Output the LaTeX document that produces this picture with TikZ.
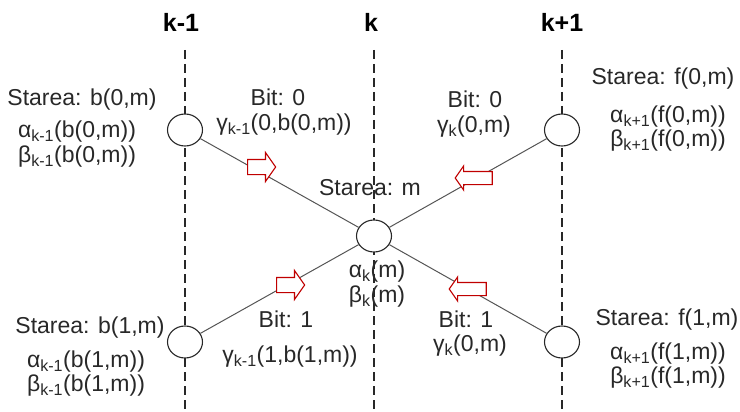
\documentclass[tikz,border=0pt]{standalone}
\usepackage{fontspec}
\setmainfont{Liberation Sans}
\usepackage{tikz}
\usetikzlibrary{shapes.arrows,shapes.geometric}
\definecolor{arrred}{RGB}{192,0,0}
\definecolor{linegray}{RGB}{85,85,85}
\definecolor{txtgray}{RGB}{40,40,40}
\newcommand{\ksub}[1]{\textsubscript{#1}}

\begin{document}
\begin{tikzpicture}[x=1pt,y=-1pt,
  font=\fontsize{23}{27}\selectfont, text=txtgray,
  state/.style={ellipse, draw=txtgray, fill=white, line width=1.1pt,
    minimum width=35pt, minimum height=32pt, inner sep=0pt},
  link/.style={draw=linegray, line width=1pt},
  timeline/.style={draw=txtgray, dash pattern=on 9pt off 5pt, line width=1.1pt},
  title/.style={font=\fontsize{25}{29}\selectfont\bfseries, text=black},
  fwd/.style={single arrow, draw=arrred, fill=white, line width=1.1pt,
    minimum height=28pt, inner sep=0pt, inner ysep=7pt,
    single arrow head extend=7pt, single arrow tip angle=110},
  bwd/.style={fwd, shape border rotate=180, minimum height=37pt,
    inner ysep=6pt, single arrow head extend=5.5pt}]
  \useasboundingbox (0,0) rectangle (740,412);

  % time instants
  \node[title] (tkm1) at (181,22) {k-1};
  \node[title] (tk)   at (371,22) {k};
  \node[title] (tkp1) at (562,22) {k+1};
  \coordinate (top1) at (185,50);  \coordinate (bot1) at (185,412);
  \coordinate (top2) at (374,50);  \coordinate (bot2) at (374,412);
  \coordinate (top3) at (562,50);  \coordinate (bot3) at (562,412);
  \draw[timeline] (top1) -- (bot1);
  \draw[timeline] (top2) -- (bot2);
  \draw[timeline] (top3) -- (bot3);

  % states
  \node[state] (sb0) at (185,130) {};
  \node[state] (sb1) at (185,342) {};
  \node[state] (sm)  at (374,236) {};
  \node[state] (sf0) at (562,130) {};
  \node[state] (sf1) at (562,342) {};

  % transitions
  \draw[link] (sb0) -- (sm);
  \draw[link] (sb1) -- (sm);
  \draw[link] (sm) -- (sf0);
  \draw[link] (sm) -- (sf1);
  \node[fwd] (a1) at (259,167) {};
  \node[fwd] (a2) at (288,285) {};
  \node[bwd] (a3) at (476,178) {};
  \node[bwd] (a4) at (470,289) {};

  % labels k-1
  \node (lb0)  at (82,100)  {Starea: b(0,m)};
  \node (ab0)  at (77,132)  {α\ksub{k-1}(b(0,m))};
  \node (bb0)  at (77,157)  {β\ksub{k-1}(b(0,m))};
  \node (lb1)  at (90,328)  {Starea: b(1,m)};
  \node (ab1)  at (86,362)  {α\ksub{k-1}(b(1,m))};
  \node (bb1)  at (86,386)  {β\ksub{k-1}(b(1,m))};
  \node (bit1) at (278,97)  {Bit: 0};
  \node (g1)   at (284,125) {γ\ksub{k-1}(0,b(0,m))};
  \node (bit2) at (286,319) {Bit: 1};
  \node (g2)   at (290,357) {γ\ksub{k-1}(1,b(1,m))};
  % labels k
  \node (lm)   at (370,188) {Starea: m};
  \node (am)   at (377,272) {α\ksub{k}(m)};
  \node (bm)   at (377,297) {β\ksub{k}(m)};
  \node (bit3) at (475,99)  {Bit: 0};
  \node (g3)   at (474,127) {γ\ksub{k}(0,m)};
  \node (bit4) at (466,319) {Bit: 1};
  \node (g4)   at (470,346) {γ\ksub{k}(0,m)};
  % labels k+1
  \node (lf0)  at (663,79)  {Starea: f(0,m)};
  \node (af0)  at (668,117) {α\ksub{k+1}(f(0,m))};
  \node (bf0)  at (668,141) {β\ksub{k+1}(f(0,m))};
  \node (lf1)  at (667,320) {Starea: f(1,m)};
  \node (af1)  at (668,354) {α\ksub{k+1}(f(1,m))};
  \node (bf1)  at (668,378) {β\ksub{k+1}(f(1,m))};
\end{tikzpicture}
\end{document}
